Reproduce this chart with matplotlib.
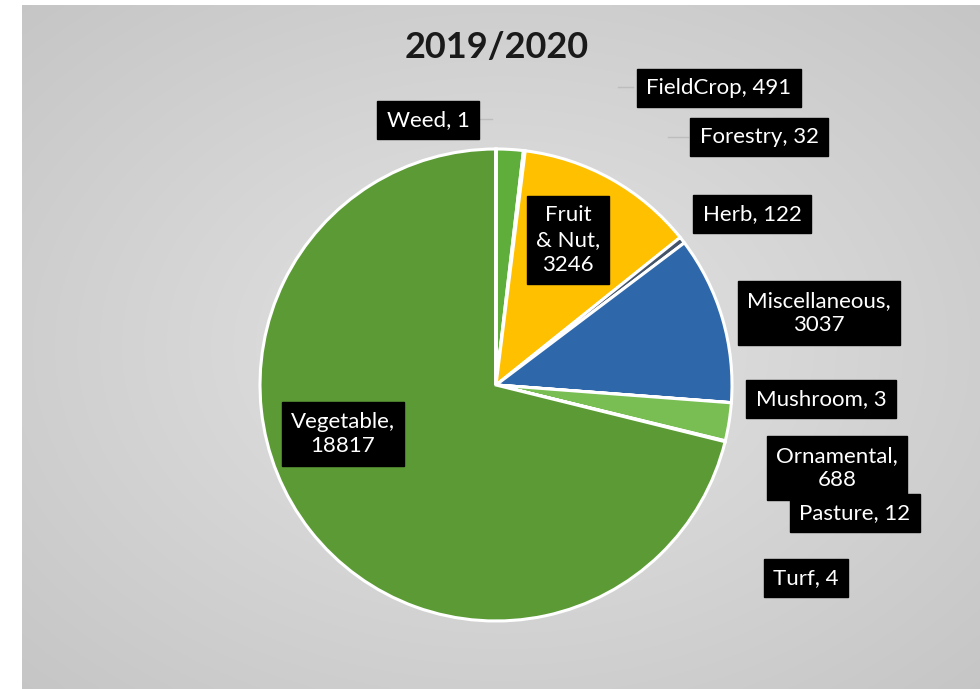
import numpy as np
import matplotlib
matplotlib.use("Agg")
import matplotlib.pyplot as plt

categories = ["FieldCrop", "Forestry", "Fruit & Nut", "Herb", "Miscellaneous",
              "Mushroom", "Ornamental", "Pasture", "Turf", "Vegetable", "Weed"]
values = [491, 32, 3246, 122, 3037, 3, 688, 12, 4, 18817, 1]
colors = ["#5fae3c", "#3f7f2a", "#ffc000", "#44546a", "#2e68ab",
          "#7a9f3a", "#78be52", "#8ab060", "#6a9a3a", "#5b9a35", "#5b9a35"]
title = "2019/2020"

W, H = 980, 689
fig = plt.figure(figsize=(W / 100, H / 100), dpi=100)
fig.patch.set_facecolor("white")

# background gradient panel
bg = fig.add_axes([22 / W, 0, (W - 22) / W, (H - 5) / H])
yy, xx = np.mgrid[0:1:300j, 0:1:400j]
r = np.sqrt(((xx - 0.5) / 0.7) ** 2 + ((yy - 0.5) / 0.7) ** 2)
img = np.clip(228 - 30 * r, 192, 230) / 255.0
bg.imshow(np.dstack([img, img, img]), aspect="auto", extent=[0, 1, 0, 1], origin="lower")
bg.axis("off")

ax = fig.add_axes([0, 0, 1, 1])
ax.patch.set_alpha(0)
ax.set_xlim(0, W)
ax.set_ylim(0, H)
ax.axis("off")

cx, cy, rad = 496, H - 385, 236
ax.pie(values, colors=colors, startangle=90, counterclock=False,
       center=(cx, cy), radius=rad,
       wedgeprops=dict(edgecolor="white", linewidth=2.2))
ax.set_xlim(0, W)
ax.set_ylim(0, H)
ax.set_aspect("auto")

fam = ["Lato", "DejaVu Sans"]
ax.text(497, H - 47, title, ha="center", va="center", fontsize=26,
        fontweight="bold", color="#1a1a1a", family=fam)

labels = [f"{c}, {v}" for c, v in zip(categories, values)]
labels[2] = f"Fruit\n& Nut,\n{values[2]}"
labels[4] = f"Miscellaneous,\n{values[4]}"
labels[6] = f"Ornamental,\n{values[6]}"
labels[9] = f"Vegetable,\n{values[9]}"

pos = {
    "FieldCrop": (719, 88), "Forestry": (759, 137), "Fruit & Nut": (568, 240),
    "Herb": (752, 214), "Miscellaneous": (819, 313), "Mushroom": (821, 399),
    "Ornamental": (837, 468), "Pasture": (855, 513), "Turf": (806, 578),
    "Vegetable": (343, 434), "Weed": (428, 120),
}

# faint leader stubs
leaders = [((633, 87), (618, 87)), ((688, 137), (668, 137)), ((478, 119), (492, 119))]
for (x0, y0), (x1, y1) in leaders:
    ax.plot([x0, x1], [H - y0, H - y1], color="#bdbdbd", lw=1, zorder=1)

for cat, lab in zip(categories, labels):
    x, y = pos[cat]
    ax.text(x, H - y, lab, ha="center", va="center", fontsize=16, color="white",
            family=fam, linespacing=1.3, zorder=5,
            bbox=dict(boxstyle="square,pad=0.42", facecolor="black", edgecolor="black"))

fig.savefig("out.png", dpi=100)
